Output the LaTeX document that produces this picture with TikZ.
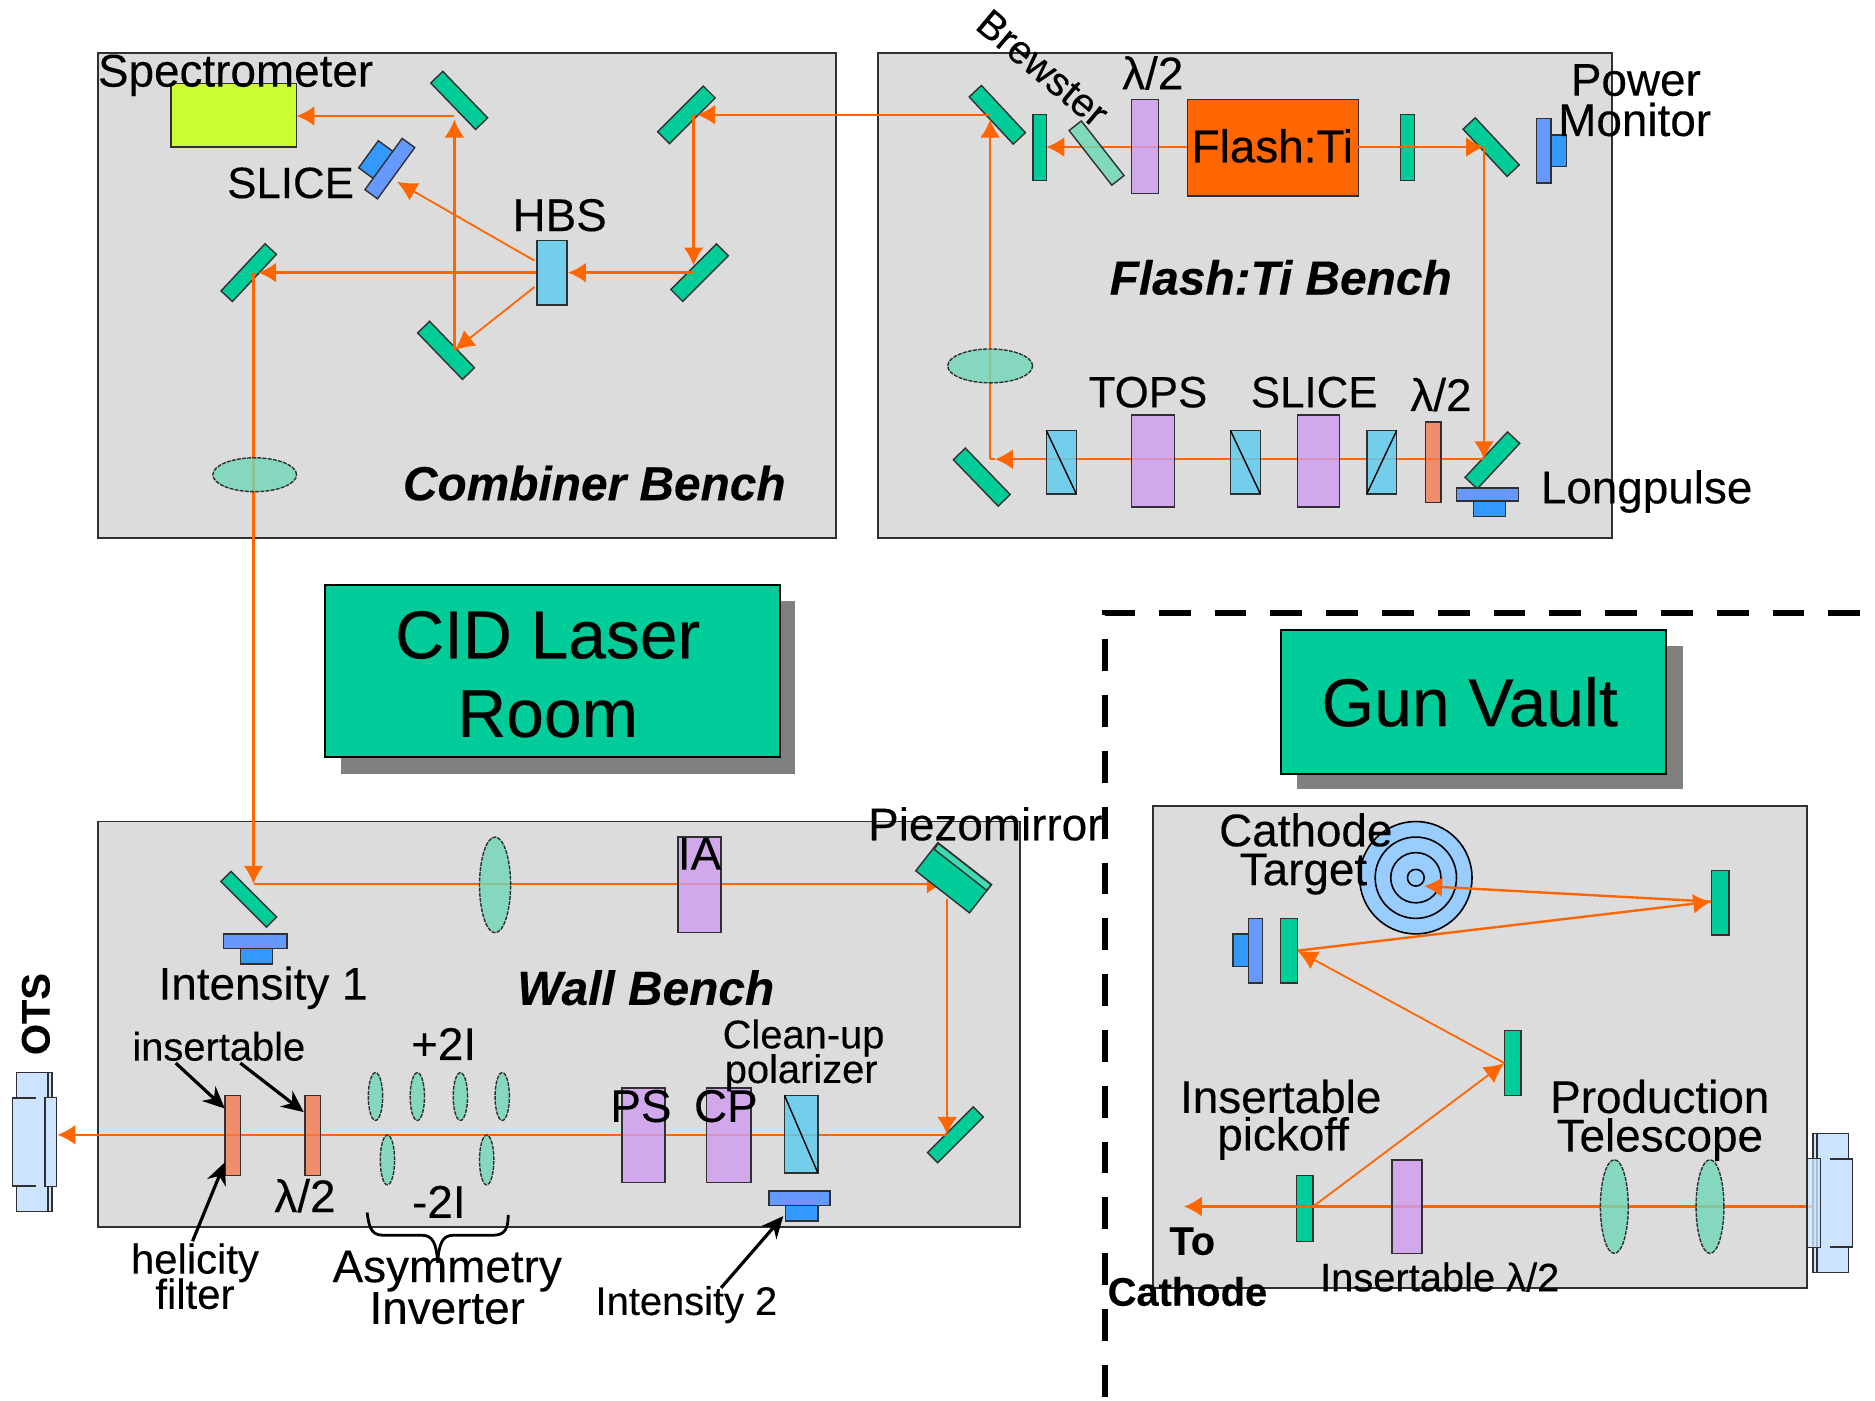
\documentclass[tikz,border=0pt]{standalone}
\usepackage{fontspec}
\setmainfont{Liberation Sans}[FakeBold=0.25]
\usetikzlibrary{arrows.meta,shapes.geometric}
\definecolor{bench}{HTML}{DCDCDC}
\definecolor{edge}{HTML}{303030}
\definecolor{mgreen}{HTML}{00CC99}
\definecolor{lensc}{HTML}{70D8B8}
\definecolor{purp}{HTML}{D09CF0}
\definecolor{cube}{HTML}{60CCEE}
\definecolor{redf}{HTML}{F47A50}
\definecolor{plate}{HTML}{6699FF}
\definecolor{block}{HTML}{3399FF}
\definecolor{spec}{HTML}{CCFF33}
\definecolor{beamc}{HTML}{FF6600}
\definecolor{targ}{HTML}{99CCFF}
\definecolor{port}{HTML}{CCE4FF}
\newcommand{\obox}[6]{%
  \pgfmathsetmacro\cxa{(#3+#5)/2}\pgfmathsetmacro\cya{(#4+#6)/2}%
  \pgfmathsetmacro\wa{(#5-#3)*0.6}\pgfmathsetmacro\ha{(#6-#4)*0.6}%
  \node[#2,minimum width=\wa pt,minimum height=\ha pt] (#1) at (\cxa,\cya) {};}
\newcommand{\mir}[7]{%
  \pgfmathsetmacro\wa{#6*0.6}\pgfmathsetmacro\ha{#7*0.6}%
  \node[#2,minimum width=\wa pt,minimum height=\ha pt,rotate=#5] (#1) at (#3,#4) {};}
\newcommand{\fz}[1]{\fontsize{#1}{#1}\selectfont}
\tikzset{
  optic/.style={draw=edge,line width=0.7pt,inner sep=0,outer sep=0,rectangle},
  benchbox/.style={optic,fill=bench,line width=0.9pt},
  titlebox/.style={draw=black,line width=0.9pt,fill=mgreen,inner sep=0,outer sep=0,rectangle},
  shadowbox/.style={fill=black!50,inner sep=0,outer sep=0,rectangle},
  green/.style={optic,fill=mgreen},
  dplate/.style={optic,fill=plate},
  dblock/.style={optic,fill=block},
  purple/.style={optic,fill=purp,fill opacity=.8},
  cubeb/.style={optic,fill=cube,fill opacity=.85},
  redb/.style={optic,fill=redf,fill opacity=.8},
  lensb/.style={draw=edge,line width=0.7pt,dash pattern=on 2pt off 0.6pt,fill=lensc,fill opacity=.8,ellipse,inner sep=0,outer sep=0},
  brew/.style={optic,fill=lensc,fill opacity=.85},
  portb/.style={optic,fill=port,fill opacity=.85},
  portf/.style={inner sep=0,outer sep=0,rectangle,fill=port,draw=none},
  beam/.style={beamc,line width=1.2pt,-{Latex[length=9pt,width=10pt]}},
  beamn/.style={beamc,line width=1.2pt},
  thin beam/.style={beamc,line width=0.9pt,-{Latex[length=10pt,width=10pt]}},
  call/.style={black,line width=1.6pt,-{Stealth[length=11pt,width=10pt]}},
  lab/.style={inner sep=0,outer sep=0,font=\fz{23}},
  labm/.style={inner sep=0,outer sep=0,font=\fz{22}},
  labs/.style={inner sep=0,outer sep=0,font=\fz{20}},
  labh/.style={inner sep=0,outer sep=0,font=\fz{21}},
  labb/.style={inner sep=0,outer sep=0,font=\fz{24}\bfseries\itshape},
  labt/.style={inner sep=0,outer sep=0,font=\fz{20}\bfseries},
  labl/.style={inner sep=0,outer sep=0,font=\fz{34}},
}
\begin{document}
\begin{tikzpicture}[x=0.6pt,y=-0.6pt]
\useasboundingbox (0,0) rectangle (1568,1171);
% benches
\obox{combiner}{benchbox}{82}{44}{699}{450}
\obox{flashbench}{benchbox}{734}{44}{1348}{450}
\obox{wall}{benchbox}{82}{687}{853}{1026}
\obox{gun}{benchbox}{964}{674}{1511}{1077}
% title boxes
\obox{cidshadow}{shadowbox}{285}{503}{665}{647}
\obox{cidbox}{titlebox}{272}{489}{652}{633}
\obox{vaultshadow}{shadowbox}{1085}{540}{1407}{660}
\obox{vaultbox}{titlebox}{1071}{527}{1393}{647}
% vault boundary
\coordinate (da) at (924,1168); \coordinate (db) at (924,513); \coordinate (dc) at (1560,513);
\draw[black,line width=3pt,dash pattern=on 16pt off 12pt] (da) -- (db) -- (dc);
% solid optics : combiner
\obox{specbox}{optic,fill=spec}{143}{70}{248}{123}
\mir{mca}{green}{384}{84}{-46}{54}{14}
\mir{mcb}{green}{574}{96}{45}{54}{14}
\mir{mcc}{green}{585}{228}{45}{54}{14}
\mir{mcd}{green}{208}{228}{47}{54}{13}
\mir{mce}{green}{373}{293}{-46}{54}{14}
\mir{slblock}{dblock}{315}{134}{54}{28}{17}
\mir{slplate}{dplate}{326}{141}{54}{53}{13}
% solid optics : flash bench
\mir{mfa}{green}{834}{96}{-47}{54}{14}
\obox{flatfa}{green}{864}{96}{875}{151}
\obox{flashti}{optic,fill=beamc}{993}{83}{1136}{164}
\obox{flatfb}{green}{1171}{96}{1183}{151}
\mir{mfb}{green}{1247}{123}{-47}{54}{14}
\obox{pmplate}{dplate}{1285}{99}{1297}{153}
\obox{pmblock}{dblock}{1297}{113}{1310}{139}
\mir{mfc}{green}{821}{399}{-46}{54}{14}
\mir{mfd}{green}{1248}{385}{47}{52}{14}
\obox{lpplate}{dplate}{1218}{408}{1270}{419}
\obox{lpblock}{dblock}{1232}{419}{1259}{432}
% solid optics : wall bench
\mir{mwa}{green}{208}{752}{-45}{54}{12}
\obox{iaplate}{dplate}{187}{781}{240}{793}
\obox{iablock}{dblock}{201}{793}{228}{806}
\mir{mwb}{green}{799}{949}{45}{54}{12}
\obox{ibplate}{dplate}{643}{996}{694}{1008}
\obox{ibblock}{dblock}{657}{1008}{684}{1021}
% solid optics : gun
\node[draw=black,line width=0.8pt,fill=targ,circle,minimum size=56.4pt,inner sep=0] (tga) at (1184,734) {};
\node[draw=black,line width=0.8pt,circle,minimum size=40.8pt,inner sep=0] (tgb) at (1184,734) {};
\node[draw=black,line width=0.8pt,circle,minimum size=25.2pt,inner sep=0] (tgc) at (1184,734) {};
\node[draw=black,line width=0.8pt,circle,minimum size=8.4pt,inner sep=0] (tgd) at (1184,734) {};
\obox{gdblock}{dblock}{1031}{781}{1044}{808}
\obox{gdplate}{dplate}{1044}{768}{1056}{822}
\obox{gfa}{green}{1071}{768}{1085}{822}
\obox{gfb}{green}{1431}{728}{1446}{782}
\obox{gfc}{green}{1258}{862}{1272}{916}
\obox{gfd}{green}{1084}{983}{1098}{1038}
% beam hit points
\coordinate (hfa) at (828,96);
\coordinate (hcb) at (580,96);
\coordinate (hcbt) at (583,96);
\coordinate (hcc) at (580,228);
\coordinate (hcct) at (580,222);
\coordinate (hbsr) at (475,228);
\coordinate (hbsl) at (449,228);
\coordinate (hbsu) at (447,218);
\coordinate (hbsd) at (447,240);
\coordinate (hcd) at (212,228);
\coordinate (hcdt) at (216,228);
\coordinate (hce) at (380,293);
\coordinate (hca) at (380,97);
\coordinate (hcat) at (380,100);
\coordinate (hspec) at (248,97);
\coordinate (hslice) at (332,152);
\coordinate (hfbl) at (993,123);
\coordinate (hfal) at (875,123);
\coordinate (hfbr) at (1136,123);
\coordinate (hfm) at (1241,123);
\coordinate (hfd) at (1241,384);
\coordinate (hfe) at (828,384);
\coordinate (hfet) at (832,384);
\coordinate (hfu) at (828,100);
\coordinate (hwa) at (212,739);
\coordinate (hwpz) at (790,739);
\coordinate (hwpd) at (792,752);
\coordinate (hwb) at (792,949);
\coordinate (hwend) at (48,949);
\coordinate (hgs) at (1524,1009);
\coordinate (hgp) at (1098,1009);
\coordinate (hgend) at (990,1009);
\coordinate (hgm) at (1258,889);
\coordinate (hgl) at (1085,795);
\coordinate (hgr) at (1431,754);
\coordinate (hgt) at (1191,741);
% beams
\draw[beam] (hfa) -- (hcbt);
\draw[beam] (hcb) -- (hcct);
\draw[beam] (hcc) -- (hbsr);
\draw[beam] (hbsl) -- (hcdt);
\draw[thin beam] (hbsd) -- (hce);
\draw[beam] (hce) -- (hcat);
\draw[beam] (hca) -- (hspec);
\draw[thin beam] (hbsu) -- (hslice);
\draw[beam] (hfbl) -- (hfal);
\draw[beam] (hfbr) -- (hfm);
\draw[beam] (hfm) -- (hfd);
\draw[beam] (hfd) -- (hfet);
\draw[beamn] (hfet) -- (hfe);
\draw[beam] (hfe) -- (hfu);
\draw[beam] (hcd) -- (hwa);
\draw[beam] (hwa) -- (hwpz);
\draw[beam] (hwpd) -- (hwb);
\draw[beam] (hwb) -- (hwend);
\draw[beam] (hgs) -- (hgend);
\draw[thin beam] (hgp) -- (hgm);
\draw[thin beam] (hgm) -- (hgl);
\draw[beam] (hgl) -- (hgr);
\draw[beam] (hgr) -- (hgt);
% piezo mirror lies over its beams
\mir{piezo}{green}{797.5}{734}{-38}{57}{30}
\mir{piezostrip}{optic,fill=mgreen!75!white}{805}{725}{-38}{56}{6}
% translucent optics
\obox{hbs}{cubeb}{449}{201}{474}{255}
\node[lensb,minimum width=42pt,minimum height=17pt] (lensc) at (213,397) {};
\mir{brewster}{brew}{917}{128}{-52}{58}{13}
\obox{hwpa}{purple}{946}{83}{969}{162}
\node[lensb,minimum width=42.6pt,minimum height=17pt] (lensf) at (828,306) {};
\obox{cubea}{cubeb}{875}{360}{900}{413}
\obox{tops}{purple}{946}{347}{982}{424}
\obox{cubeb}{cubeb}{1029}{360}{1054}{413}
\obox{slicep}{purple}{1085}{347}{1120}{424}
\obox{cubec}{cubeb}{1143}{360}{1168}{413}
\obox{hwpb}{redb}{1192}{353}{1205}{420}
\node[lensb,minimum width=15.6pt,minimum height=48pt] (lensw) at (414,740) {};
\obox{ia}{purple}{567}{700}{603}{780}
\obox{ps}{purple}{520}{910}{556}{989}
\obox{cp}{purple}{591}{910}{628}{989}
\obox{cubed}{cubeb}{656}{916}{684}{981}
\obox{hfilter}{redb}{188}{916}{201}{983}
\obox{hwpc}{redb}{255}{916}{268}{983}
\node[lensb,minimum width=7.2pt,minimum height=24pt] (lpa) at (314,917) {};
\node[lensb,minimum width=7.2pt,minimum height=24pt] (lpb) at (349,917) {};
\node[lensb,minimum width=7.2pt,minimum height=24pt] (lpc) at (385,917) {};
\node[lensb,minimum width=7.2pt,minimum height=24pt] (lpd) at (420,917) {};
\node[lensb,minimum width=7.2pt,minimum height=25pt] (lma) at (324,970) {};
\node[lensb,minimum width=7.2pt,minimum height=25pt] (lmb) at (407,970) {};
\obox{gwp}{purple}{1164}{970}{1189}{1048}
\node[lensb,minimum width=14pt,minimum height=47pt] (lga) at (1350,1009) {};
\node[lensb,minimum width=14pt,minimum height=47pt] (lgb) at (1430,1009) {};
% OTS port
\obox{otsbody}{optic,fill=port}{14}{897}{43.5}{1013}
\obox{otsleft}{portf}{10.5}{918}{30}{992}
\draw[edge,line width=0.8pt] (otsleft.north east) -- (otsleft.north west) -- (otsleft.south west) -- (otsleft.south east);
\coordinate (otsla) at (40,897); \coordinate (otslb) at (40,1013);
\draw[edge,line width=0.7pt] (otsla) -- (otslb);
\obox{otsright}{optic,fill=port}{37.5}{918}{47.5}{992}
% gun port
\obox{gpbody}{optic,fill=port}{1516}{948}{1546}{1064}
\coordinate (gpla) at (1519.5,948); \coordinate (gplb) at (1519.5,1064);
\draw[edge,line width=0.7pt] (gpla) -- (gplb);
\obox{gpright}{portf}{1530}{969}{1549}{1043}
\draw[edge,line width=0.8pt] (gpright.north west) -- (gpright.north east) -- (gpright.south east) -- (gpright.south west);
\obox{gpleft}{optic,fill=port,fill opacity=.8}{1511}{969}{1522.5}{1043}
% polarizer diagonals
\draw[black,line width=0.7pt] (cubea.north west) -- (cubea.south east);
\draw[black,line width=0.7pt] (cubeb.north west) -- (cubeb.south east);
\draw[black,line width=0.7pt] (cubec.south west) -- (cubec.north east);
\draw[black,line width=0.7pt] (cubed.north west) -- (cubed.south east);
% labels
\node[lab] (tspec) at (197,63) {Spectrometer};
\node[labm] (tslicea) at (243,153) {SLICE};
\node[lab] (thbs) at (468,180) {HBS};
\node[labb] (tcomb) at (497,404) {Combiner Bench};
\node[labs,rotate=-40] (tbrew) at (872,57) {Brewster};
\node[lab] (thwpa) at (964,61) {λ/2};
\node[lab] (tflash) at (1064,122) {Flash:Ti};
\node[lab] (tpower) at (1368,67) {Power};
\node[lab] (tmon) at (1367,100) {Monitor};
\node[labb] (tfbench) at (1071,232) {Flash:Ti Bench};
\node[labm] (ttops) at (960,328) {TOPS};
\node[labm] (tsliceb) at (1099,328) {SLICE};
\node[lab] (thwpb) at (1205,330) {λ/2};
\node[lab] (tlong) at (1377,411) {Longpulse};
\node[labl] (tcida) at (458,531) {CID Laser};
\node[labl] (tcidb) at (458,597) {Room};
\node[labl] (tgun) at (1229,587) {Gun Vault};
\node[lab] (tpiezo) at (824,689) {Piezomirror};
\node[lab] (tia) at (585,714) {IA};
\node[lab] (tinta) at (220,826) {Intensity 1};
\node[labb] (twall) at (540,826) {Wall Bench};
\node[labt,rotate=90] (tots) at (30,848) {OTS};
\node[labs] (tins) at (183,875) {insertable};
\node[lab] (tpl) at (371,873) {+2I};
\node[labs] (tclean) at (672,868) {Clean-up};
\node[labs] (tpol) at (670,897) {polarizer};
\node[lab] (tps) at (536,925) {PS};
\node[lab] (tcp) at (607,925) {CP};
\node[lab] (thwpc) at (255,1000) {λ/2};
\node[lab] (tmi) at (367,1005) {-2I};
\node[labh] (thel) at (163,1056) {helicity};
\node[labh] (tfil) at (163,1082) {filter};
\node[lab] (tasy) at (374,1063) {Asymmetry};
\node[lab] (tinv) at (374,1094) {Inverter};
\node[labs] (tintb) at (574,1091) {Intensity 2};
\node[lab] (tcath) at (1092,694) {Cathode};
\node[lab] (ttarg) at (1090,731) {Target};
\node[lab] (tinsb) at (1071,917) {Insertable};
\node[lab] (tpick) at (1073,952) {pickoff};
\node[lab] (tprod) at (1388,917) {Production};
\node[lab] (ttel) at (1388,953) {Telescope};
\node[labt] (tto) at (997,1038) {To};
\node[labt] (tcat) at (993,1080) {Cathode};
\node[labs] (tinsl) at (1204,1068) {Insertable λ/2};
% callouts
\coordinate (ia1) at (147,889); \coordinate (ia2) at (188,927);
\coordinate (ib1) at (201,889); \coordinate (ib2) at (254,930);
\coordinate (ic1) at (161,1038); \coordinate (ic2) at (188,972);
\coordinate (id1) at (603,1077); \coordinate (id2) at (655,1017);
\draw[call] (ia1) -- (ia2);
\draw[call] (ib1) -- (ib2);
\draw[call] (ic1) -- (ic2);
\draw[call] (id1) -- (id2);
% brace
\coordinate (bl) at (307,1014); \coordinate (br) at (425,1016); \coordinate (bt) at (366,1056);
\draw[black,line width=1.4pt] (bl) .. controls (309,1030) and (312,1033) .. (322,1033) -- (353,1033) .. controls (362,1033) and (365,1040) .. (bt);
\draw[black,line width=1.4pt] (bt) .. controls (367,1040) and (370,1033) .. (379,1033) -- (412,1033) .. controls (422,1033) and (425,1028) .. (br);
\end{tikzpicture}
\end{document}
